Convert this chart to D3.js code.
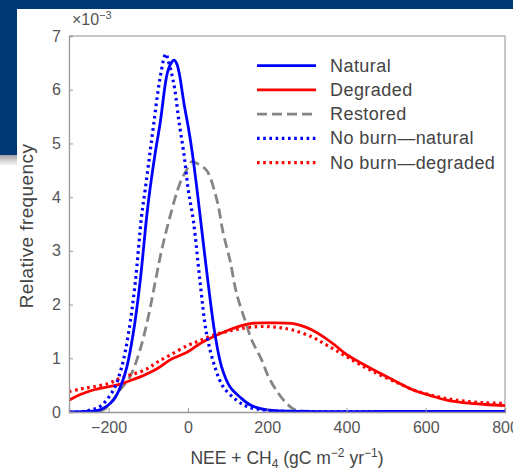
<!DOCTYPE html>
<html>
<head>
<meta charset="utf-8">
<script src="https://cdn.jsdelivr.net/npm/d3@7"></script>
<style>
	body { margin: 0; background: #fff; }
	svg { display: block; font-family: "Liberation Sans", Arial, sans-serif; }
</style>
</head>
<body>
<div class="chart"></div>
<script>
// values, frequencies in units of 1e-3
const naturalX = [-300,-260,-222,-188,-167,-154,-138,-121,-104,-96,-83,-70,-52,-42,-35,-28,-22,-10,1,10,22,31,51,68,85,106,131,160,200,300,500,800];
const naturalY = [0,0.01,0.04,0.22,0.53,0.84,1.46,2.40,3.64,4.13,4.80,5.38,6.31,6.5,6.55,6.48,6.31,5.75,5.3,4.88,4.2,3.64,2.40,1.46,0.84,0.47,0.28,0.12,0.04,0.01,0.01,0.01];

const degradedX = [-300,-270,-239,-200,-171,-140,-112,-79,-45,0,30,64,94,131,160,200,262,290,312,342,370,400,440,485,530,569,610,653,700,750,800];
const degradedY = [0.22,0.33,0.41,0.47,0.52,0.6,0.68,0.8,0.97,1.12,1.27,1.40,1.5,1.6,1.65,1.66,1.65,1.6,1.53,1.40,1.25,1.07,0.9,0.72,0.55,0.41,0.31,0.22,0.17,0.14,0.12];

const restoredX = [-300,-250,-213,-196,-171,-146,-121,-100,-83,-66,-45,-20,0,10,25,47,73,89,106,123,144,161,186,203,228,253,270,300,800];
const restoredY = [0,0,0.04,0.16,0.41,0.66,1.15,1.77,2.40,3.02,3.64,4.26,4.55,4.66,4.62,4.5,3.95,3.33,2.83,2.2,1.71,1.34,0.97,0.66,0.35,0.13,0.04,0.01,0.01];

const noBurnNatX = [-300,-280,-250,-222,-188,-167,-150,-133,-117,-108,-97,-86,-75,-68,-60,-55,-50,-41,-33,-22,-10,1,14,31,47,68,89,123,150,200,300,800];
const noBurnNatY = [0,0,0.03,0.1,0.41,0.84,1.46,2.40,3.64,4.13,4.75,5.38,6.0,6.31,6.6,6.67,6.55,6.3,6.0,5.38,4.8,4.13,3.55,2.40,1.46,0.84,0.47,0.22,0.1,0.03,0.01,0.01];

const noBurnDegX = [-300,-270,-239,-200,-171,-140,-104,-79,-45,0,30,64,94,131,177,220,262,312,342,370,400,440,485,530,569,610,653,700,750,800];
const noBurnDegY = [0.38,0.43,0.47,0.53,0.63,0.7,0.8,0.92,1.06,1.24,1.33,1.43,1.49,1.55,1.59,1.58,1.53,1.40,1.28,1.16,1.03,0.86,0.69,0.54,0.41,0.32,0.25,0.2,0.17,0.16];

const seriesNames = ["Natural", "Degraded", "Restored", "No burn\u2014natural", "No burn\u2014degraded"];
const xTicks = [-200, 0, 200, 400, 600, 800];
const yTicks = [0, 1, 2, 3, 4, 5, 6, 7];

const series = [
	{ name: seriesNames[0], xs: naturalX, ys: naturalY, color: "#0000ff", dash: null },
	{ name: seriesNames[1], xs: degradedX, ys: degradedY, color: "#ff0000", dash: null },
	{ name: seriesNames[2], xs: restoredX, ys: restoredY, color: "#858585", dash: "10,5" },
	{ name: seriesNames[3], xs: noBurnNatX, ys: noBurnNatY, color: "#0000ff", dash: "2.6,3.6" },
	{ name: seriesNames[4], xs: noBurnDegX, ys: noBurnDegY, color: "#ff0000", dash: "2.6,3.6" }
];

const width = 513;
const height = 472;
const margin = { left: 69, top: 36, right: 8, bottom: 60 };

const svg = d3.select('.chart')
	.append('svg')
	.attr('width', width)
	.attr('height', height);

// slide background behind the figure
svg.append('rect').attr('width', width).attr('height', height).attr('fill', '#fff');
const grad = svg.append('defs').append('linearGradient')
	.attr('id', 'shade').attr('x1', 0).attr('x2', 0).attr('y1', 0).attr('y2', 1);
grad.append('stop').attr('offset', '0%').attr('stop-color', '#9a9a9a');
grad.append('stop').attr('offset', '100%').attr('stop-color', '#ffffff');
svg.append('rect').attr('x', 0).attr('y', 154).attr('width', 17).attr('height', 12).attr('fill', 'url(#shade)');
svg.append('rect').attr('x', 0).attr('y', 0).attr('width', width).attr('height', 9).attr('fill', '#003876');
svg.append('rect').attr('x', 0).attr('y', 0).attr('width', 17).attr('height', 155).attr('fill', '#003876');

const x = d3.scaleLinear().domain([-300, 800]).range([margin.left, width - margin.right]);
const y = d3.scaleLinear().domain([0, 7]).range([height - margin.bottom, margin.top]);

svg.append('clipPath').attr('id', 'plot')
	.append('rect')
	.attr('x', x(-300)).attr('y', y(7) - 5)
	.attr('width', x(800) - x(-300)).attr('height', y(0) - y(7) + 5);

// frame
svg.append('path')
	.attr('d', `M${x(-300)},${y(7)}H${x(800)}V${y(0)}`)
	.attr('fill', 'none')
	.attr('stroke', '#b5b5b5')
	.attr('stroke-width', 1.5);

const line = d3.line()
	.x(d => x(d[0]))
	.y(d => y(d[1]))
	.curve(d3.curveCatmullRom.alpha(0.5));

const order = [2, 1, 4, 0, 3];
svg.append('g')
	.attr('clip-path', 'url(#plot)')
	.selectAll('path')
	.data(order.map(i => series[i]))
	.enter()
	.append('path')
	.attr('d', s => line(s.xs.map((v, i) => [v, s.ys[i]])))
	.attr('fill', 'none')
	.attr('stroke', s => s.color)
	.attr('stroke-width', s => s.dash && s.dash.startsWith('2') ? 3.2 : 2.8)
	.attr('stroke-dasharray', s => s.dash);

const yAxis = svg.append('g')
	.attr('transform', `translate(${x(-300)},0)`)
	.call(d3.axisLeft(y).tickValues(yTicks).tickSize(-4).tickPadding(8).tickFormat(d3.format('d')));
const xAxis = svg.append('g')
	.attr('transform', `translate(0,${y(0)})`)
	.call(d3.axisBottom(x).tickValues(xTicks).tickSize(-4).tickPadding(10));
[xAxis, yAxis].forEach(g => {
	g.select('.domain').attr('stroke', '#999').attr('stroke-width', 1.3);
	g.selectAll('.tick line').attr('stroke', '#999');
	g.selectAll('.tick text').attr('fill', '#555').style('font-size', '16px')
		.style('font-family', '"Liberation Sans", Arial, sans-serif');
});

// exponent
const ex = svg.append('text').attr('x', 72).attr('y', 25).attr('fill', '#555').style('font-size', '16px');
ex.append('tspan').text('\u00d710');
ex.append('tspan').attr('dy', -6).style('font-size', '11px').text('\u22123');

// axis titles
svg.append('text')
	.attr('transform', `translate(33,${(y(0) + y(7)) / 2 + 2}) rotate(-90)`)
	.attr('text-anchor', 'middle')
	.attr('fill', '#444')
	.style('font-size', '19px')
	.style('letter-spacing', '0.4px')
	.text('Relative frequency');

const xl = svg.append('text')
	.attr('x', (x(-300) + x(800)) / 2)
	.attr('y', 464)
	.attr('text-anchor', 'middle')
	.attr('fill', '#444')
	.style('font-size', '17.5px');
xl.append('tspan').text('NEE + CH');
xl.append('tspan').attr('dy', 4).style('font-size', '12px').text('4');
xl.append('tspan').attr('dy', -4).text(' (gC m');
xl.append('tspan').attr('dy', -7).style('font-size', '12px').text('\u22122');
xl.append('tspan').attr('dy', 7).text(' yr');
xl.append('tspan').attr('dy', -7).style('font-size', '12px').text('\u22121');
xl.append('tspan').attr('dy', 7).text(')');

// legend
const legend = svg.append('g')
	.selectAll('g')
	.data(series)
	.enter()
	.append('g')
	.attr('transform', (d, i) => `translate(257,${65.7 + i * 24.25})`);
legend.append('line')
	.attr('x1', 0).attr('x2', 59)
	.attr('stroke', d => d.color)
	.attr('stroke-width', d => d.dash && d.dash.startsWith('2') ? 3.2 : 2.8)
	.attr('stroke-dasharray', d => d.dash);
legend.append('text')
	.attr('x', 73)
	.attr('y', 6)
	.attr('fill', '#444')
	.style('font-size', '18px')
	.style('letter-spacing', '0.45px')
	.text(d => d.name);
</script>
</body>
</html>
